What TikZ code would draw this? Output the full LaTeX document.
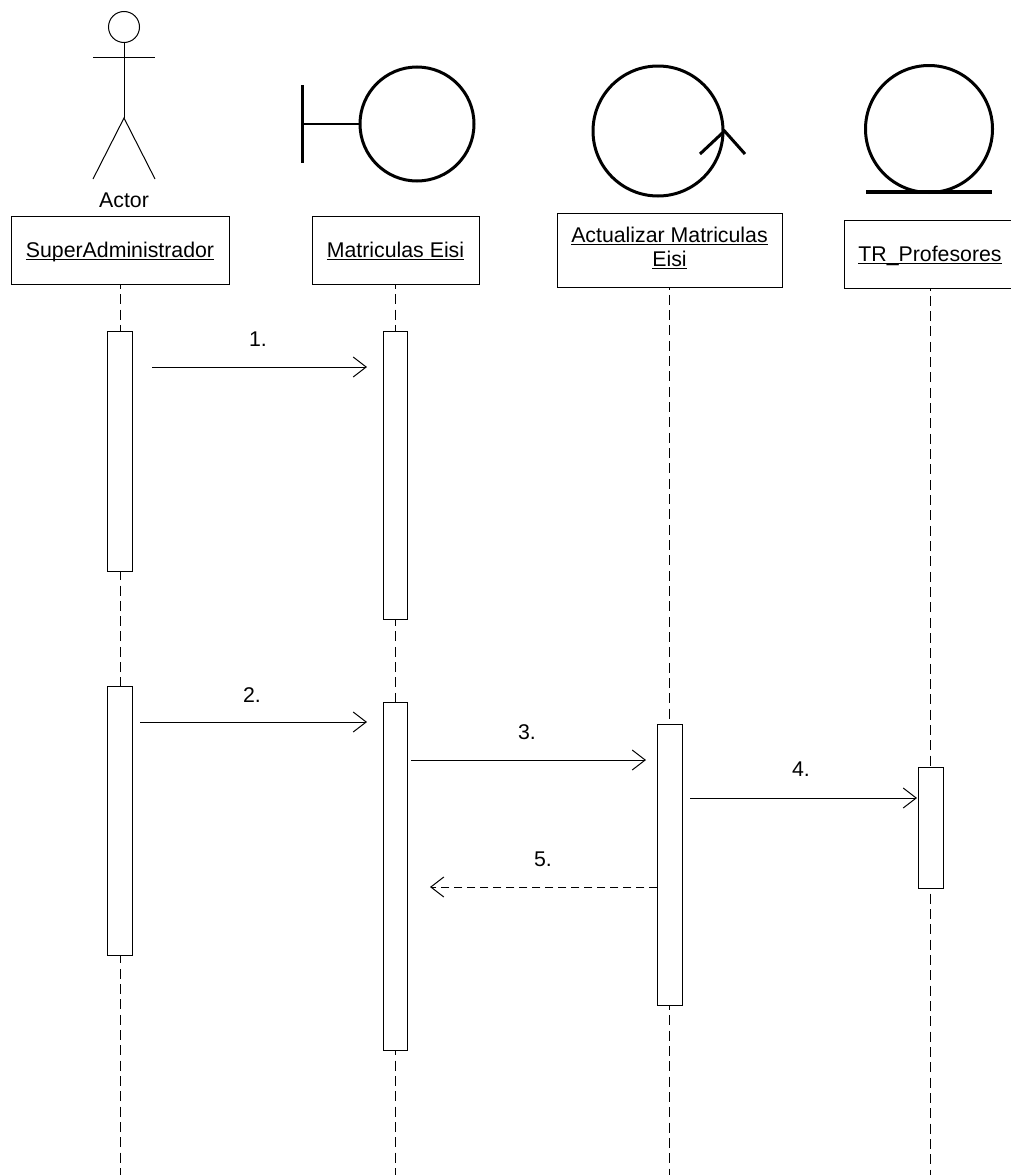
\documentclass[tikz,border=0pt]{standalone}
\usepackage{fontspec}
\setmainfont{Liberation Sans}
\usetikzlibrary{arrows.meta}

\newcommand{\ulabel}[2][17pt]{\rule{0pt}{#1}\underline{\smash{#2}}}

\begin{document}
\begin{tikzpicture}[x=1pt,y=-1pt,line width=1pt,
        >={Straight Barb[length=13pt,width=20pt]},
        every node/.style = {font=\fontsize{21.3}{24}\selectfont},
        header/.style = {draw, rectangle, align=center, inner sep=0pt,
            minimum height=68pt},
        activation/.style = {draw, rectangle, fill=white, inner sep=0pt,
            minimum width=24.5pt},
        lifeline/.style = {dash pattern=on 10pt off 5.33pt, dash phase=#1},
        icon/.style = {line width=3pt},
        msgtext/.style = {inner sep=0pt}]

    \useasboundingbox (0,0) rectangle (1011,1175);

    % Actor figure
    \node[draw,circle,minimum size=31pt,inner sep=0pt] (head) at (124,27) {};
    \coordinate (hip) at (124,118);
    \coordinate (armL) at (93,57);
    \coordinate (armR) at (155,57);
    \coordinate (footL) at (93,179);
    \coordinate (footR) at (155,179);
    \draw (head.south) -- (hip);
    \draw (armL) -- (armR);
    \draw (footL) -- (hip) -- (footR);
    \node[inner sep=0pt] (actor) at (124,200) {Actor};

    % Boundary
    \node[draw,circle,icon,minimum size=114pt,inner sep=0pt] (bound) at (417,124) {};
    \coordinate (barT) at (302,85);
    \coordinate (barB) at (302,163);
    \coordinate (barM) at (302,124);
    \draw[icon] (barT) -- (barB);
    \draw[line width=2.5pt] (barM) -- (bound.west);

    % Control
    \node[draw,circle,icon,minimum size=130pt,inner sep=0pt] (ctrl) at (658,131) {};
    \coordinate (ctrlL) at (700,154);
    \coordinate (ctrlR) at (745,154);
    \draw[icon] (ctrlL) -- (ctrl.east) -- (ctrlR);

    % Entity
    \node[draw,circle,icon,minimum size=127pt,inner sep=0pt] (entity) at (929,129) {};
    \coordinate (entL) at (866,192);
    \coordinate (entR) at (992,192);
    \draw[line width=4pt] (entL) -- (entR);

    % Header boxes
    \node[header,minimum width=218pt] (super) at (120,250) {\ulabel{SuperAdministrador}};
    \node[header,minimum width=167pt] (matri) at (395.5,250) {\ulabel{Matriculas Eisi}};
    \node[header,minimum width=225pt,minimum height=74pt] (actua) at (669.5,250)
        {\ulabel[11.4pt]{Actualizar Matriculas}\\\ulabel[11.4pt]{Eisi}};
    \node[header,minimum width=172pt] (profe) at (930,254) {\ulabel{TR\_Profesores}};

    % Lifelines
    \coordinate (superEnd) at (120,1175);
    \coordinate (matriEnd) at (395.5,1175);
    \coordinate (actuaEnd) at (669.5,1175);
    \coordinate (profeEnd) at (930,1175);
    \draw[lifeline=5.6pt] (super.south) -- (superEnd);
    \draw[lifeline=5.6pt] (matri.south) -- (matriEnd);
    \draw[lifeline=8pt] (actua.south) -- (actuaEnd);
    \draw[lifeline=8pt] (profe.south) -- (profeEnd);

    % Activations
    \node[activation,minimum height=240pt] (superA) at (120,451) {};
    \node[activation,minimum height=288pt] (matriA) at (395.5,475) {};
    \node[activation,minimum height=269pt] (superB) at (120,820.5) {};
    \node[activation,minimum height=348pt] (matriB) at (395.5,876) {};
    \node[activation,minimum height=281pt] (actuaB) at (670,864.5) {};
    \node[activation,minimum height=121pt] (profeB) at (931,827.5) {};

    % Messages
    \coordinate (m1a) at (152,367);
    \coordinate (m1b) at (367,367);
    \coordinate (m2a) at (140,722);
    \coordinate (m2b) at (367,722);
    \coordinate (m3a) at (411,760);
    \coordinate (m3b) at (646,760);
    \coordinate (m4a) at (690,798);
    \coordinate (m4b) at (917,798);
    \coordinate (m5b) at (430,887);
    \draw[->] (m1a) -- (m1b);
    \draw[->] (m2a) -- (m2b);
    \draw[->] (m3a) -- (m3b);
    \draw[->] (m4a) -- (m4b);
    \draw[->,dash pattern=on 8pt off 5pt] (actuaB.west |- m5b) -- (m5b);

    % Message labels
    \node[msgtext] (t1) at (258,339) {1.};
    \node[msgtext] (t2) at (252,695) {2.};
    \node[msgtext] (t3) at (527,732) {3.};
    \node[msgtext] (t4) at (801,769) {4.};
    \node[msgtext] (t5) at (543,859) {5.};

\end{tikzpicture}
\end{document}
